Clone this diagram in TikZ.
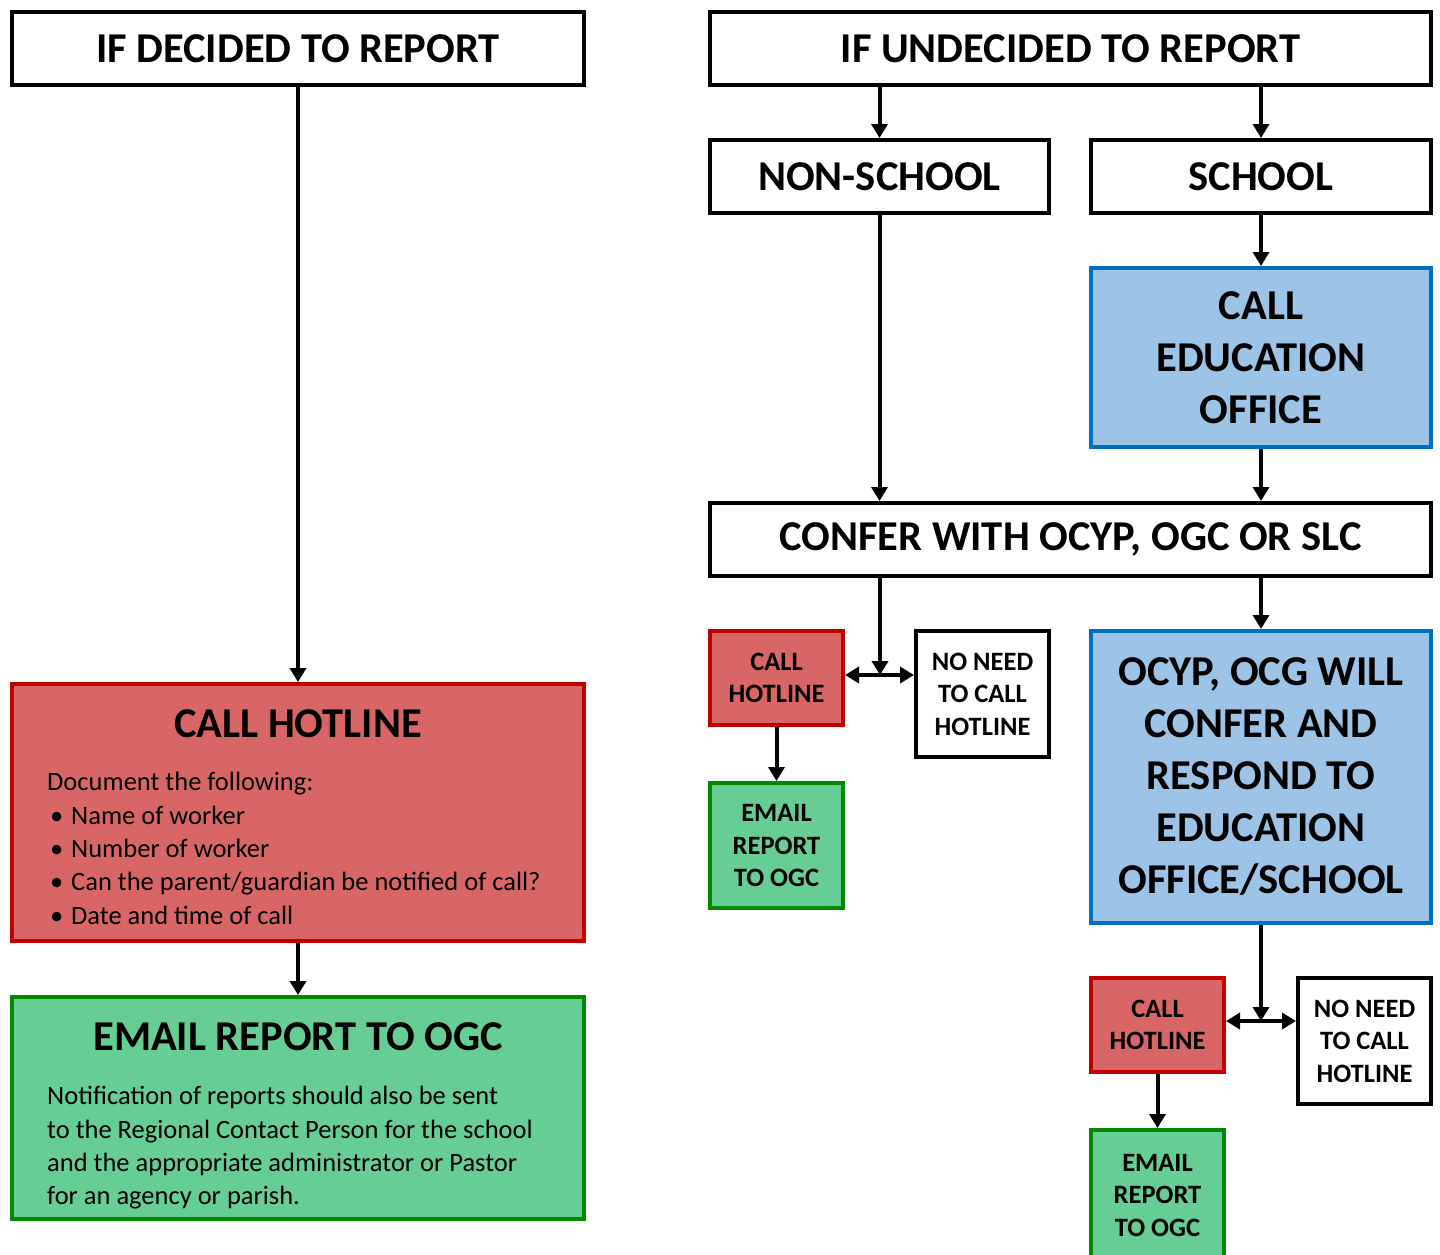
\documentclass[tikz,border=0pt]{standalone}
\usepackage{fontspec}
\setmainfont{Carlito}
\usetikzlibrary{arrows.meta}
\definecolor{redfill}{RGB}{217,102,102}
\definecolor{redline}{RGB}{192,0,0}
\definecolor{greenfill}{RGB}{102,205,148}
\definecolor{greenline}{RGB}{0,138,0}
\definecolor{bluefill}{RGB}{157,195,230}
\definecolor{blueline}{RGB}{0,112,192}
\tikzset{
  box/.style={draw=black, fill=white, line width=4pt, inner sep=0pt, align=center,
    font=\bfseries\fontsize{42.5}{52}\selectfont},
  smallbox/.style={box, font=\bfseries\fontsize{26.5}{32.5}\selectfont},
  redbox/.style={fill=redfill, draw=redline},
  greenbox/.style={fill=greenfill, draw=greenline},
  bluebox/.style={fill=bluefill, draw=blueline},
  bigtitle/.style={inner sep=0pt, font=\bfseries\fontsize{42.5}{52}\selectfont},
  bodytext/.style={inner sep=0pt, align=left, anchor=north west, font=\fontsize{26.5}{33.4}\selectfont},
  arr/.style={line width=4pt, -{Triangle[length=14pt,width=16pt]}},
  dbl/.style={line width=4pt, {Triangle[length=14pt,width=16pt]}-{Triangle[length=14pt,width=16pt]}},
}
\newcommand{\bul}{\makebox[24pt][l]{\hspace{3pt}•}}
\begin{document}
\begin{tikzpicture}[x=1pt,y=-1pt]
\path[use as bounding box] (0,0) rectangle (1440,1254);
\clip (0,0) rectangle (1440,1254);
\fill[white] (0,0) rectangle (1440,1254);

% left column
\node[box, minimum width=572pt, minimum height=73pt] (dec) at (298,48.5) {IF DECIDED TO REPORT};
\node[box, redbox, minimum width=572pt, minimum height=257pt] (hot) at (298,812.5) {};
\node[bigtitle] (hottitle) at (298,724) {CALL HOTLINE};
\node[bodytext] (hotbody) at (47,772) {Document the following:\\
\bul Name of worker\\
\bul Number of worker\\
\bul Can the parent/guardian be notified of call?\\
\bul Date and time of call};
\node[box, greenbox, minimum width=572pt, minimum height=222pt] (em) at (298,1108) {};
\node[bigtitle] (emtitle) at (298,1037) {EMAIL REPORT TO OGC};
\node[bodytext] (embody) at (47,1086) {Notification of reports should also be sent\\
to the Regional Contact Person for the school\\
and the appropriate administrator or Pastor\\
for an agency or parish.};

% right column
\node[box, minimum width=721pt, minimum height=73pt] (und) at (1070.5,48.5) {IF UNDECIDED TO REPORT};
\node[box, minimum width=339pt, minimum height=73pt] (non) at (879.5,176.5) {NON-SCHOOL};
\node[box, minimum width=340pt, minimum height=73pt] (sch) at (1261,176.5) {SCHOOL};
\node[box, bluebox, minimum width=340pt, minimum height=179pt] (edu) at (1261,357.5) {CALL\\EDUCATION\\OFFICE};
\node[box, minimum width=721pt, minimum height=73pt] (conf) at (1070.5,539.5) {CONFER WITH OCYP, OGC OR SLC};
\node[smallbox, redbox, minimum width=133pt, minimum height=94pt] (chl) at (776.5,678) {CALL\\HOTLINE};
\node[smallbox, minimum width=133pt, minimum height=126pt] (nnl) at (982.5,694) {NO NEED\\TO CALL\\HOTLINE};
\node[smallbox, greenbox, minimum width=133pt, minimum height=125pt] (eml) at (776.5,845.5) {EMAIL\\REPORT\\TO OGC};
\node[box, bluebox, minimum width=340pt, minimum height=292pt] (ocyp) at (1261,777) {OCYP, OCG WILL\\CONFER AND\\RESPOND TO\\EDUCATION\\OFFICE/SCHOOL};
\node[smallbox, redbox, minimum width=133pt, minimum height=94pt] (chr) at (1157.5,1025) {CALL\\HOTLINE};
\node[smallbox, minimum width=133pt, minimum height=126pt] (nnr) at (1364.5,1041) {NO NEED\\TO CALL\\HOTLINE};
\node[smallbox, greenbox, minimum width=133pt, minimum height=130pt] (emr) at (1157.5,1195) {EMAIL\\REPORT\\TO OGC};

\coordinate (jl) at (880,675);
\coordinate (jr) at (1261,1021);

% connectors
\draw[arr] (dec.south) -- (hot.north);
\draw[arr] (hot.south) -- (em.north);
\draw[arr] (und.south -| non) -- (non.north);
\draw[arr] (und.south -| sch) -- (sch.north);
\draw[arr] (non.south) -- (conf.north -| non);
\draw[arr] (sch.south) -- (edu.north);
\draw[arr] (edu.south) -- (conf.north -| edu);
\draw[arr] (conf.south -| ocyp) -- (ocyp.north);
\draw[arr] (conf.south -| jl) -- (jl);
\draw[dbl] (chl.east |- jl) -- (nnl.west |- jl);
\draw[arr] (chl.south) -- (eml.north);
\draw[arr] (ocyp.south) -- (jr);
\draw[dbl] (chr.east |- jr) -- (nnr.west |- jr);
\draw[arr] (chr.south) -- (emr.north);
\end{tikzpicture}
\end{document}
